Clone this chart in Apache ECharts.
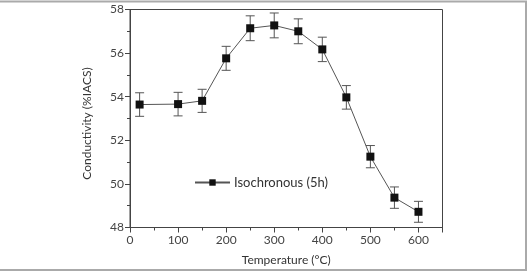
<!DOCTYPE html>
<html>
<head>
<meta charset="utf-8">
<script src="https://cdn.jsdelivr.net/npm/echarts@6/dist/echarts.min.js"></script>
<style>html,body{margin:0;padding:0;background:#fff}#c{width:531px;height:272px}</style>
</head>
<body>
<div id="c"></div>
<script>
const temperatures = [20, 100, 150, 200, 250, 300, 350, 400, 450, 500, 550, 600];
const conductivity = [53.64, 53.66, 53.81, 55.76, 57.14, 57.27, 57.0, 56.17, 53.97, 51.25, 49.37, 48.72];
const errors = [0.54, 0.54, 0.53, 0.55, 0.57, 0.57, 0.57, 0.56, 0.54, 0.51, 0.49, 0.48];
const seriesName = 'Isochronous (5h)';
const xTicks = [0, 100, 200, 300, 400, 500, 600];
const yTicks = [48, 50, 52, 54, 56, 58];

const font = 'Lato, "Open Sans", sans-serif';
const chart = echarts.init(document.getElementById('c'), null, {renderer: 'canvas'});
const pts = temperatures.map((t, i) => [t, conductivity[i]]);
const errData = temperatures.map((t, i) => [t, conductivity[i] - errors[i], conductivity[i] + errors[i]]);

chart.setOption({
  animation: false,
  grid: {left: 130, right: 88.5, top: 9.5, bottom: 44.5, show: true, borderColor: '#444', borderWidth: 1},
  graphic: [{
    type: 'rect', shape: {x: -5, y: 1.5, width: 531, height: 268.5},
    style: {fill: 'none', stroke: '#aaa', lineWidth: 2}, z: 0
  }],
  legend: {
    data: [seriesName], left: 189, top: 171, itemWidth: 35, itemHeight: 8, itemGap: 4,
    textStyle: {fontFamily: font, fontSize: 13, color: '#333', padding: [0, 0, 0, -1]}
  },
  xAxis: {
    type: 'value', min: 0, max: 650, interval: 100,
    name: 'Temperature (°C)', nameLocation: 'middle', nameGap: 27,
    nameTextStyle: {fontFamily: font, fontSize: 12, color: '#333'},
    axisLine: {lineStyle: {color: '#444', width: 1}},
    axisTick: {show: true, length: 5, lineStyle: {color: '#444'}},
    minorTick: {show: true, splitNumber: 2, length: 3, lineStyle: {color: '#444'}},
    axisLabel: {fontFamily: font, fontSize: 12, color: '#444', margin: 7,
      formatter: v => xTicks.includes(v) ? String(v) : ''},
    splitLine: {show: false}
  },
  yAxis: {
    type: 'value', min: 48, max: 58, interval: 2,
    name: 'Conductivity (%IACS)', nameLocation: 'middle', nameGap: 37,
    nameTextStyle: {fontFamily: font, fontSize: 12, color: '#333', padding: [0, 0, 0, -10]},
    axisLine: {show: true, lineStyle: {color: '#444', width: 1}},
    axisTick: {show: true, length: 5, lineStyle: {color: '#444'}},
    minorTick: {show: true, splitNumber: 2, length: 3, lineStyle: {color: '#444'}},
    axisLabel: {fontFamily: font, fontSize: 12, color: '#444', margin: 6,
      formatter: v => yTicks.includes(v) ? String(v) : ''},
    splitLine: {show: false}
  },
  series: [
    {
      type: 'custom', name: 'err', silent: true, z: 2,
      data: errData,
      renderItem: (params, api) => {
        const x = api.value(0);
        const lo = api.coord([x, api.value(1)]);
        const hi = api.coord([x, api.value(2)]);
        const w = 4.5;
        const st = {stroke: '#555', lineWidth: 1};
        return {type: 'group', children: [
          {type: 'line', shape: {x1: lo[0], y1: lo[1], x2: hi[0], y2: hi[1]}, style: st},
          {type: 'line', shape: {x1: lo[0] - w, y1: lo[1], x2: lo[0] + w, y2: lo[1]}, style: st},
          {type: 'line', shape: {x1: hi[0] - w, y1: hi[1], x2: hi[0] + w, y2: hi[1]}, style: st}
        ]};
      }
    },
    {
      type: 'line', name: seriesName, data: pts, z: 3,
      symbol: 'rect', symbolSize: 8, showAllSymbol: true,
      lineStyle: {color: '#555', width: 1},
      itemStyle: {color: '#111', borderWidth: 0}
    }
  ]
});
</script>
</body>
</html>
